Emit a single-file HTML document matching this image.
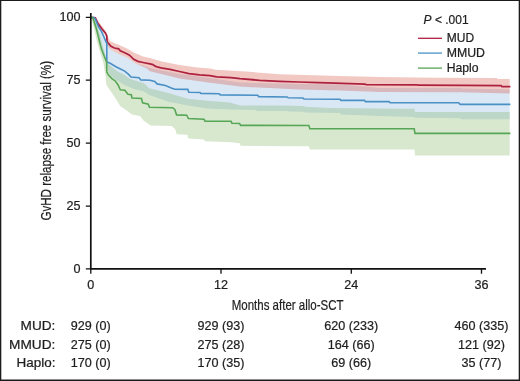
<!DOCTYPE html>
<html><head><meta charset="utf-8"><style>
html,body{margin:0;padding:0;background:#fff;width:520px;height:381px;overflow:hidden}
svg{display:block;will-change:transform}
</style></head><body>
<svg width="520" height="381" viewBox="0 0 520 381">
<rect x="0" y="0" width="520" height="381" fill="#fff"/>
<polygon points="91.0,17.3 95.0,17.8 98.4,24.5 101.6,29.5 103.5,33.5 106.1,39.5 107.0,42.0 111.0,50.0 118.6,53.9 127.0,57.6 135.4,63.5 146.0,66.6 150.0,68.0 179.5,74.0 210.0,78.0 240.0,82.6 299.0,84.0 340.0,84.6 380.0,87.9 460.0,87.9 462.0,88.5 509.7,89.5 509.7,119.3 461.0,119.3 460.0,118.3 415.0,117.8 414.0,117.0 380.0,116.0 341.0,114.5 340.0,113.0 305.0,112.4 304.0,111.7 289.0,111.5 288.0,111.0 257.0,111.0 256.0,110.0 230.0,109.5 206.9,108.5 187.7,105.6 168.5,101.7 149.2,95.0 144.0,91.6 135.5,89.5 125.0,85.3 114.5,79.0 110.0,75.0 106.8,66.0 105.5,58.0 103.0,52.0 100.0,42.0 97.5,33.0 95.0,25.0 93.0,19.0 91.0,17.3" fill="#dae8f6"/>
<polygon points="91.0,17.3 94.0,18.0 97.0,25.0 100.0,35.0 103.0,47.0 106.8,60.0 107.5,63.0 112.4,67.5 117.6,71.6 123.0,74.0 130.2,79.0 144.0,83.2 149.2,88.3 168.5,93.1 187.7,98.8 206.9,100.8 230.0,102.5 240.0,105.5 280.0,105.5 304.0,106.0 305.0,106.7 330.0,108.0 400.0,108.7 414.5,108.7 415.0,112.0 509.7,112.0 509.7,155.5 415.0,155.5 414.5,149.5 310.0,149.5 308.8,146.2 240.6,145.8 239.6,143.3 231.0,142.3 205.0,141.3 204.0,139.4 188.4,138.4 187.2,134.8 176.6,134.3 175.4,129.5 171.9,126.0 150.6,125.4 148.9,124.2 143.5,120.5 140.0,116.0 132.0,114.5 126.7,110.6 120.2,106.0 116.2,99.4 111.0,91.6 106.4,85.0 105.5,76.0 103.4,63.3 100.0,52.0 97.1,42.3 95.0,33.0 92.8,23.4 92.0,20.0 91.0,17.3" fill="rgb(99,163,59)" fill-opacity="0.25"/>
<polygon points="91.0,17.3 95.0,17.4 98.0,21.0 101.5,25.5 105.0,30.0 107.6,36.0 110.2,41.2 118.6,44.8 127.0,48.4 133.7,52.4 143.0,56.6 150.0,58.0 161.8,61.5 179.5,65.0 197.2,67.4 210.0,68.6 215.5,69.8 246.0,71.5 279.4,74.2 340.0,76.1 380.0,76.9 435.0,77.8 497.0,77.9 497.5,79.0 509.7,79.0 509.7,93.5 460.0,92.3 380.0,91.9 340.0,90.5 299.0,89.5 240.0,86.6 210.0,82.8 179.5,78.6 150.0,71.3 146.0,68.0 135.4,63.5 127.0,57.6 118.6,53.9 111.0,50.0 107.0,45.0 106.5,42.0 106.2,38.0 104.5,34.0 101.0,29.5 97.5,24.5 95.0,18.5 91.0,17.3" fill="rgb(212,72,52)" fill-opacity="0.3"/>
<polyline points="91.0,17.3 95.3,17.8 97.8,23.2 101.6,28.5 105.4,32.9 106.8,36.0 107.0,41.4 107.7,42.5 111.0,46.3 114.4,48.0 118.6,48.8 120.3,50.9 125.3,53.0 129.5,55.1 133.7,59.3 137.9,61.4 143.0,62.5 150.0,63.9 152.9,64.6 155.1,66.1 158.1,67.2 161.0,67.9 170.0,69.4 179.5,71.5 189.0,73.6 199.6,74.8 210.0,75.7 216.7,76.8 230.9,77.7 240.0,78.7 259.7,80.3 279.4,81.3 299.0,82.0 318.7,82.6 335.0,83.1 364.5,84.1 366.5,84.7 417.0,84.8 418.0,85.2 463.3,85.3 501.0,85.6 502.0,86.6 510.4,86.6" fill="none" stroke="#ad2140" stroke-width="1.75" stroke-linejoin="miter"/>
<polyline points="91.0,17.3 94.0,17.5 95.3,19.0 98.4,26.6 101.6,31.6 103.5,36.0 106.1,42.0 106.8,43.0 106.8,62.0 110.2,63.2 115.5,66.5 119.4,68.5 124.7,71.1 128.6,74.4 131.0,77.0 139.1,77.7 140.8,79.9 150.0,80.2 154.7,81.4 157.1,83.9 165.4,85.5 171.3,87.9 174.8,89.2 187.8,89.4 188.8,92.2 200.0,92.5 200.8,93.4 219.1,93.7 220.3,94.9 257.7,95.3 258.7,96.6 287.2,97.0 288.2,97.8 303.0,98.0 304.0,99.0 339.9,99.2 340.9,100.4 364.5,100.4 365.5,101.6 389.1,101.6 390.1,102.8 458.6,102.8 460.2,104.4 510.4,104.4" fill="none" stroke="#4a90c4" stroke-width="1.6" stroke-linejoin="miter"/>
<polyline points="91.0,17.3 92.8,17.8 94.7,23.4 96.6,29.7 98.2,36.0 101.3,48.6 104.5,57.0 106.6,62.0 106.8,72.0 108.7,75.3 111.6,78.3 115.5,81.2 118.1,85.0 120.3,89.8 124.8,90.2 128.0,94.2 131.3,94.8 132.0,98.1 141.5,98.5 142.6,102.9 148.3,104.1 149.4,107.3 172.5,107.7 174.8,109.4 176.6,114.9 186.7,115.2 188.4,118.5 204.0,119.2 205.0,121.2 231.0,121.2 231.9,123.2 239.6,123.5 240.6,125.4 308.8,125.5 309.9,128.8 414.2,128.8 415.0,133.4 510.4,133.4" fill="none" stroke="#56a656" stroke-width="1.6" stroke-linejoin="miter"/>
<path d="M90.8,13 V268.8 M90,268.8 H486" stroke="#111" stroke-width="1.7" fill="none"/>
<path d="M85.8,17.3 H90.8 M85.8,80.2 H90.8 M85.8,143.05 H90.8 M85.8,206.15 H90.8 M85.8,268.8 H90.8 M90.8,268.8 V273.8 M221,268.8 V273.8 M351.3,268.8 V273.8 M481.5,268.8 V273.8" stroke="#111" stroke-width="1.3" fill="none"/>
<text x="80.6" y="21.2" text-anchor="end" font-size="12.6" font-family="Liberation Sans, sans-serif" stroke="#1e1e1e" stroke-width="0.22" fill="#1e1e1e">100</text>
<text x="80.6" y="84.1" text-anchor="end" font-size="12.6" font-family="Liberation Sans, sans-serif" stroke="#1e1e1e" stroke-width="0.22" fill="#1e1e1e">75</text>
<text x="80.6" y="147.0" text-anchor="end" font-size="12.6" font-family="Liberation Sans, sans-serif" stroke="#1e1e1e" stroke-width="0.22" fill="#1e1e1e">50</text>
<text x="80.6" y="210.1" text-anchor="end" font-size="12.6" font-family="Liberation Sans, sans-serif" stroke="#1e1e1e" stroke-width="0.22" fill="#1e1e1e">25</text>
<text x="80.6" y="272.7" text-anchor="end" font-size="12.6" font-family="Liberation Sans, sans-serif" stroke="#1e1e1e" stroke-width="0.22" fill="#1e1e1e">0</text>
<text x="90.8" y="289.0" text-anchor="middle" font-size="12.6" font-family="Liberation Sans, sans-serif" stroke="#1e1e1e" stroke-width="0.22" fill="#1e1e1e">0</text>
<text x="221" y="289.0" text-anchor="middle" font-size="12.6" font-family="Liberation Sans, sans-serif" stroke="#1e1e1e" stroke-width="0.22" fill="#1e1e1e">12</text>
<text x="351.3" y="289.0" text-anchor="middle" font-size="12.6" font-family="Liberation Sans, sans-serif" stroke="#1e1e1e" stroke-width="0.22" fill="#1e1e1e">24</text>
<text x="481.5" y="289.0" text-anchor="middle" font-size="12.6" font-family="Liberation Sans, sans-serif" stroke="#1e1e1e" stroke-width="0.22" fill="#1e1e1e">36</text>
<text x="231.7" y="310.2" font-size="14.8" font-family="Liberation Sans, sans-serif" stroke="#1e1e1e" stroke-width="0.22" fill="#1e1e1e" textLength="111.9" lengthAdjust="spacingAndGlyphs">Months after allo-SCT</text>
<text transform="translate(51.1,220.6) rotate(-90)" x="0" y="0" font-size="14.8" font-family="Liberation Sans, sans-serif" stroke="#1e1e1e" stroke-width="0.22" fill="#1e1e1e" textLength="159.6" lengthAdjust="spacingAndGlyphs">GvHD relapse free survival (%)</text>
<text x="423.6" y="23.95" font-size="13" font-family="Liberation Sans, sans-serif" stroke="#1e1e1e" stroke-width="0.22" fill="#1e1e1e" textLength="45" lengthAdjust="spacingAndGlyphs"><tspan font-style="italic">P</tspan> &lt; .001</text>
<path d="M418,38.3 H442" stroke="#ad2140" stroke-width="1.3"/>
<text x="446.7" y="42.2" font-size="12.2" font-family="Liberation Sans, sans-serif" stroke="#1e1e1e" stroke-width="0.22" fill="#1e1e1e" textLength="27.4" lengthAdjust="spacingAndGlyphs">MUD</text>
<path d="M418,53.1 H442" stroke="#4a90c4" stroke-width="1.3"/>
<text x="446.7" y="57.0" font-size="12.2" font-family="Liberation Sans, sans-serif" stroke="#1e1e1e" stroke-width="0.22" fill="#1e1e1e" textLength="38.3" lengthAdjust="spacingAndGlyphs">MMUD</text>
<path d="M418,68.1 H442" stroke="#56a656" stroke-width="1.3"/>
<text x="446.7" y="72.0" font-size="12.2" font-family="Liberation Sans, sans-serif" stroke="#1e1e1e" stroke-width="0.22" fill="#1e1e1e" textLength="31.8" lengthAdjust="spacingAndGlyphs">Haplo</text>
<text x="20.6" y="330.0" font-size="12.6" font-family="Liberation Sans, sans-serif" stroke="#1e1e1e" stroke-width="0.22" fill="#1e1e1e" textLength="34.8" lengthAdjust="spacingAndGlyphs">MUD:</text>
<text x="90.8" y="330.0" text-anchor="middle" font-size="12.6" font-family="Liberation Sans, sans-serif" stroke="#1e1e1e" stroke-width="0.22" fill="#1e1e1e">929 (0)</text>
<text x="221" y="330.0" text-anchor="middle" font-size="12.6" font-family="Liberation Sans, sans-serif" stroke="#1e1e1e" stroke-width="0.22" fill="#1e1e1e">929 (93)</text>
<text x="351.3" y="330.0" text-anchor="middle" font-size="12.6" font-family="Liberation Sans, sans-serif" stroke="#1e1e1e" stroke-width="0.22" fill="#1e1e1e">620 (233)</text>
<text x="481.5" y="330.0" text-anchor="middle" font-size="12.6" font-family="Liberation Sans, sans-serif" stroke="#1e1e1e" stroke-width="0.22" fill="#1e1e1e">460 (335)</text>
<text x="9.1" y="348.5" font-size="12.6" font-family="Liberation Sans, sans-serif" stroke="#1e1e1e" stroke-width="0.22" fill="#1e1e1e" textLength="46.3" lengthAdjust="spacingAndGlyphs">MMUD:</text>
<text x="90.8" y="348.5" text-anchor="middle" font-size="12.6" font-family="Liberation Sans, sans-serif" stroke="#1e1e1e" stroke-width="0.22" fill="#1e1e1e">275 (0)</text>
<text x="221" y="348.5" text-anchor="middle" font-size="12.6" font-family="Liberation Sans, sans-serif" stroke="#1e1e1e" stroke-width="0.22" fill="#1e1e1e">275 (28)</text>
<text x="351.3" y="348.5" text-anchor="middle" font-size="12.6" font-family="Liberation Sans, sans-serif" stroke="#1e1e1e" stroke-width="0.22" fill="#1e1e1e">164 (66)</text>
<text x="481.5" y="348.5" text-anchor="middle" font-size="12.6" font-family="Liberation Sans, sans-serif" stroke="#1e1e1e" stroke-width="0.22" fill="#1e1e1e">121 (92)</text>
<text x="16.5" y="367.0" font-size="12.6" font-family="Liberation Sans, sans-serif" stroke="#1e1e1e" stroke-width="0.22" fill="#1e1e1e" textLength="38.9" lengthAdjust="spacingAndGlyphs">Haplo:</text>
<text x="90.8" y="367.0" text-anchor="middle" font-size="12.6" font-family="Liberation Sans, sans-serif" stroke="#1e1e1e" stroke-width="0.22" fill="#1e1e1e">170 (0)</text>
<text x="221" y="367.0" text-anchor="middle" font-size="12.6" font-family="Liberation Sans, sans-serif" stroke="#1e1e1e" stroke-width="0.22" fill="#1e1e1e">170 (35)</text>
<text x="351.3" y="367.0" text-anchor="middle" font-size="12.6" font-family="Liberation Sans, sans-serif" stroke="#1e1e1e" stroke-width="0.22" fill="#1e1e1e">69 (66)</text>
<text x="481.5" y="367.0" text-anchor="middle" font-size="12.6" font-family="Liberation Sans, sans-serif" stroke="#1e1e1e" stroke-width="0.22" fill="#1e1e1e">35 (77)</text>
<path d="M0,0 H520 V1.1 H0 Z M0,379.6 H520 V381 H0 Z M0,0 H1.3 V381 H0 Z M518.7,0 H520 V381 H518.7 Z" fill="#1c1c1c"/>
</svg>
</body></html>
